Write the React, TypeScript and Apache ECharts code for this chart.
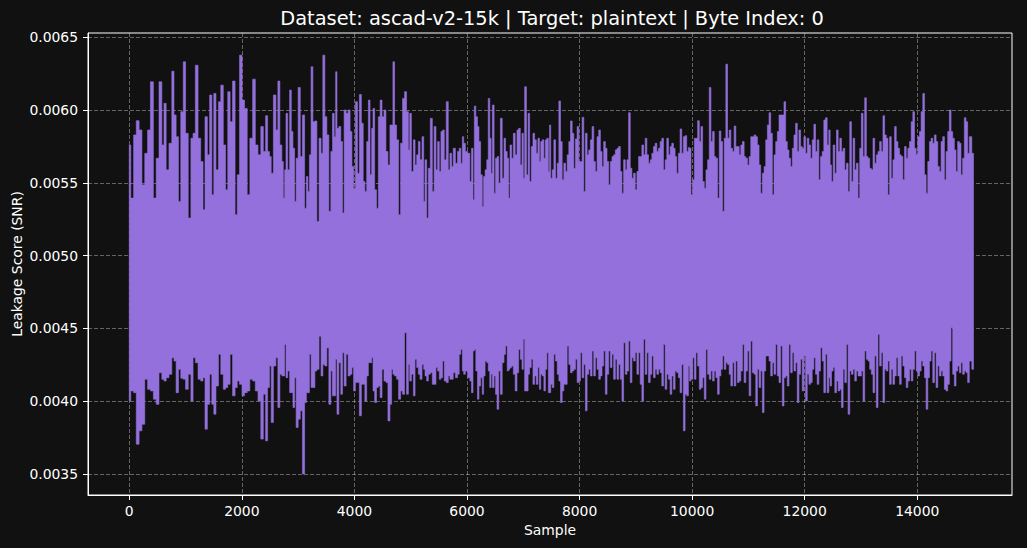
import React, { useEffect, useRef } from 'react';
import * as echarts from 'echarts';

const TITLE = 'Dataset: ascad-v2-15k | Target: plaintext | Byte Index: 0';
const X_LABEL = 'Sample';
const Y_LABEL = 'Leakage Score (SNR)';
const xTicks = [0, 2000, 4000, 6000, 8000, 10000, 12000, 14000];
const yTicks = [0.0035, 0.004, 0.0045, 0.005, 0.0055, 0.006, 0.0065];
const X_MIN = -733;
const X_MAX = 15683;
const Y_MIN = 0.003356;
const Y_MAX = 0.006529;

// sample position of each envelope reading
const sampleIndex = [
  0, 54, 101, 148, 201, 249, 302, 349, 402, 455, 502, 555, 603, 632, 679, 732, 780, 809, 856, 892,
  939, 980, 1021, 1075, 1116, 1151, 1198, 1246, 1293, 1328, 1364, 1411, 1446, 1488, 1517, 1564, 1606, 1647, 1694, 1729,
  1771, 1812, 1859, 1901, 1936, 1983, 2024, 2072, 2119, 2166, 2219, 2260, 2314, 2361, 2402, 2443, 2473,
  2508, 2537, 2584, 2626, 2655, 2696, 2726, 2749, 2773, 2797, 2832, 2867, 2891, 2926, 2950, 2980, 3021, 3056, 3098, 3133,
  3162, 3186, 3216, 3245, 3280, 3316, 3351, 3393, 3422, 3457, 3493, 3528, 3564, 3599, 3623, 3658, 3676, 3705, 3741, 3776,
  3800, 3835, 3870, 3906, 3941, 3971, 4000, 4036, 4071, 4106, 4142, 4171, 4201, 4236, 4260, 4295, 4319, 4342, 4378, 4407,
  4443, 4472, 4508, 4543, 4578, 4614, 4649, 4673, 4696, 4732, 4767, 4803, 4838, 4873, 4909, 4944, 4974,
  4992, 5033, 5063, 5092, 5122, 5151, 5181, 5222, 5240, 5269, 5299, 5328, 5369, 5399, 5434, 5464, 5493, 5523, 5552, 5582,
  5611, 5653, 5682, 5712, 5741, 5771, 5818, 5847, 5877, 5906, 5930, 5953, 5989, 6036, 6066, 6095, 6119, 6142, 6172, 6201,
  6225, 6260, 6284, 6307, 6337, 6366, 6390, 6420, 6437, 6467, 6496, 6520, 6549, 6579, 6608, 6644, 6673, 6697, 6732, 6750,
  6779, 6809, 6838, 6874, 6903, 6933, 6962, 6992, 7010, 7039, 7074, 7098, 7128, 7157, 7187, 7216, 7246, 7275, 7299, 7322,
  7352, 7381, 7405, 7434, 7458, 7476,
  7500, 7529, 7559, 7588, 7618, 7647, 7677, 7706, 7736, 7765, 7795, 7824, 7854, 7883, 7913, 7942, 7972, 8001, 8031, 8060,
  8090, 8119, 8149, 8178, 8208, 8237, 8267, 8296, 8326, 8355, 8385, 8414, 8444, 8473, 8503, 8532, 8562, 8591, 8621, 8650,
  8680, 8709, 8739, 8768, 8798, 8827, 8857, 8886, 8916, 8945, 8975, 9004, 9034, 9063, 9093, 9122, 9152, 9181, 9211, 9240,
  9270, 9299, 9329, 9358, 9388, 9417, 9447, 9476, 9506, 9535, 9565, 9594, 9624, 9653, 9683, 9712, 9742, 9771, 9801, 9830,
  9860, 9889, 9919, 9948,
  9965, 9995, 10024, 10054, 10083, 10113, 10142, 10172, 10201, 10231, 10260, 10290, 10319, 10349, 10378, 10408, 10437, 10467, 10496, 10526,
  10555, 10585, 10614, 10644, 10673, 10703, 10732, 10762, 10791, 10821, 10850, 10880, 10909, 10939, 10968, 10998, 11027, 11057, 11086, 11116,
  11145, 11175, 11204, 11234, 11263, 11293, 11322, 11352, 11381, 11411, 11440, 11470, 11499, 11529, 11558, 11588, 11617, 11647, 11676, 11706,
  11735, 11765, 11794, 11824, 11853, 11883, 11912, 11942, 11971, 12001, 12030, 12060, 12089, 12119, 12148, 12178, 12207, 12237, 12266, 12296,
  12325, 12355, 12384, 12414, 12443,
  12461, 12491, 12520, 12550, 12579, 12609, 12638, 12668, 12697, 12727, 12756, 12786, 12815, 12845, 12874, 12904, 12933, 12963, 12992, 13022,
  13051, 13081, 13110, 13140, 13169, 13199, 13228, 13258, 13287, 13317, 13346, 13376, 13405, 13435, 13464, 13494, 13523, 13553, 13582, 13612,
  13641, 13671, 13700, 13730, 13759, 13789, 13818, 13848, 13877, 13907, 13936, 13966, 13995, 14025, 14054, 14084, 14113, 14143, 14172, 14202,
  14231, 14261, 14290, 14320, 14349, 14379, 14408, 14438, 14467, 14497, 14526, 14556, 14585, 14615, 14644, 14674, 14703, 14733, 14762, 14792,
  14821, 14851, 14880, 14910, 14939, 14999,
];

// local maxima of the SNR trace (upper edge of the band)
const upperEnvelope = [
  57.60e-4, 53.95e-4, 58.29e-4, 59.27e-4, 58.63e-4, 54.86e-4, 57.03e-4, 58.63e-4, 61.94e-4, 53.95e-4, 56.69e-4, 61.94e-4, 57.60e-4, 60.46e-4, 55.89e-4, 57.72e-4, 62.67e-4, 59.66e-4, 58.17e-4, 53.72e-4,
  59.89e-4, 63.31e-4, 58.40e-4, 52.58e-4, 58.06e-4, 58.40e-4, 63.08e-4, 58.06e-4, 56.46e-4, 53.15e-4, 59.54e-4, 56.92e-4, 61.03e-4, 54.18e-4, 61.14e-4, 55.89e-4, 60.57e-4, 61.71e-4, 57.60e-4, 54.52e-4,
  61.26e-4, 59.20e-4, 61.99e-4, 52.81e-4, 55.55e-4, 63.77e-4, 60.68e-4, 60.11e-4, 54.18e-4, 58.06e-4, 62.12e-4, 57.60e-4, 56.92e-4, 58.86e-4, 57.15e-4, 59.61e-4, 57.15e-4,
  56.80e-4, 55.66e-4, 61.03e-4, 58.63e-4, 61.99e-4, 57.60e-4, 56.46e-4, 53.95e-4, 55.89e-4, 59.77e-4, 55.89e-4, 61.37e-4, 58.52e-4, 57.37e-4, 53.72e-4, 56.69e-4, 61.55e-4, 56.80e-4, 59.66e-4, 53.26e-4,
  55.43e-4, 54.41e-4, 56.92e-4, 62.97e-4, 59.20e-4, 59.25e-4, 52.35e-4, 58.06e-4, 57.03e-4, 63.77e-4, 59.54e-4, 58.29e-4, 53.04e-4, 57.15e-4, 59.77e-4, 58.17e-4, 62.63e-4, 58.74e-4, 58.86e-4, 57.83e-4,
  52.92e-4, 60.00e-4, 59.77e-4, 60.00e-4, 58.52e-4, 56.12e-4, 54.63e-4, 60.57e-4, 55.66e-4, 61.07e-4, 59.09e-4, 55.09e-4, 54.41e-4, 57.83e-4, 60.68e-4, 55.55e-4, 58.74e-4, 60.11e-4, 54.52e-4, 53.26e-4,
  59.54e-4, 60.68e-4, 59.54e-4, 60.00e-4, 57.15e-4, 56.23e-4, 58.97e-4, 58.97e-4, 63.31e-4, 58.97e-4, 57.95e-4, 52.81e-4, 57.72e-4, 60.80e-4, 61.26e-4, 59.89e-4, 57.26e-4,
  59.77e-4, 55.78e-4, 57.95e-4, 56.23e-4, 56.92e-4, 57.83e-4, 56.58e-4, 58.17e-4, 53.72e-4, 56.58e-4, 52.58e-4, 56.00e-4, 59.43e-4, 54.41e-4, 58.86e-4, 55.89e-4, 57.83e-4, 55.78e-4, 58.52e-4, 58.63e-4,
  56.58e-4, 60.57e-4, 55.89e-4, 57.03e-4, 56.12e-4, 57.37e-4, 56.35e-4, 57.15e-4, 57.37e-4, 56.35e-4, 58.17e-4, 57.72e-4, 57.15e-4, 57.03e-4, 55.09e-4, 57.37e-4, 53.84e-4, 60.27e-4, 59.54e-4, 58.86e-4,
  57.83e-4, 55.55e-4, 53.38e-4, 55.43e-4, 55.89e-4, 56.58e-4, 60.80e-4, 58.06e-4, 55.66e-4, 60.34e-4, 54.29e-4, 56.69e-4, 56.80e-4, 54.98e-4, 59.43e-4, 55.32e-4, 58.06e-4, 57.15e-4, 56.69e-4, 53.95e-4,
  57.60e-4, 56.69e-4, 58.40e-4, 56.92e-4, 58.63e-4, 58.74e-4, 56.23e-4, 58.40e-4, 55.32e-4, 61.60e-4, 55.55e-4, 59.77e-4, 55.09e-4, 57.49e-4, 58.40e-4, 57.95e-4, 57.03e-4, 58.06e-4, 56.46e-4, 57.83e-4,
  57.95e-4, 56.69e-4, 57.95e-4, 58.06e-4, 55.78e-4, 58.97e-4,
  55.32e-4, 55.89e-4, 57.95e-4, 55.32e-4, 56.35e-4, 60.62e-4, 57.83e-4, 55.21e-4, 56.35e-4, 55.78e-4, 56.92e-4, 57.83e-4, 59.25e-4, 58.40e-4, 56.00e-4, 58.01e-4, 58.86e-4, 56.46e-4, 56.46e-4, 59.50e-4,
  54.41e-4, 58.40e-4, 56.92e-4, 57.26e-4, 57.95e-4, 58.86e-4, 56.46e-4, 55.78e-4, 58.17e-4, 58.63e-4, 57.15e-4, 56.12e-4, 57.83e-4, 57.37e-4, 56.46e-4, 54.86e-4, 56.46e-4, 56.80e-4, 56.92e-4, 57.26e-4,
  57.37e-4, 57.49e-4, 55.78e-4, 54.29e-4, 56.58e-4, 55.89e-4, 56.58e-4, 59.82e-4, 56.00e-4, 55.32e-4, 55.66e-4, 54.52e-4, 55.78e-4, 56.80e-4, 56.80e-4, 57.60e-4, 56.92e-4, 58.06e-4, 56.92e-4, 56.35e-4,
  56.58e-4, 57.03e-4, 57.49e-4, 57.72e-4, 57.15e-4, 57.37e-4, 57.83e-4, 58.06e-4, 55.89e-4, 56.58e-4, 58.06e-4, 56.92e-4, 57.49e-4, 57.72e-4, 57.37e-4, 56.80e-4, 55.66e-4, 57.03e-4, 58.70e-4, 57.03e-4,
  58.17e-4, 58.24e-4, 57.15e-4, 57.42e-4,
  57.37e-4, 54.18e-4, 55.21e-4, 58.06e-4, 58.06e-4, 59.27e-4, 57.83e-4, 58.86e-4, 55.09e-4, 54.63e-4, 55.89e-4, 56.58e-4, 61.55e-4, 57.83e-4, 58.52e-4, 56.80e-4, 56.69e-4, 53.95e-4, 58.56e-4, 57.83e-4,
  53.04e-4, 58.06e-4, 63.15e-4, 58.06e-4, 58.63e-4, 57.37e-4, 57.15e-4, 58.90e-4, 57.49e-4, 57.49e-4, 56.92e-4, 57.60e-4, 57.83e-4, 56.80e-4, 56.69e-4, 56.23e-4, 56.80e-4, 58.17e-4, 58.17e-4, 58.29e-4,
  58.17e-4, 57.60e-4, 56.23e-4, 54.29e-4, 55.66e-4, 56.12e-4, 57.95e-4, 58.97e-4, 59.82e-4, 58.40e-4, 54.18e-4, 56.92e-4, 57.83e-4, 58.52e-4, 59.66e-4, 59.66e-4, 59.66e-4, 60.57e-4, 57.83e-4, 57.26e-4,
  56.69e-4, 56.12e-4, 57.37e-4, 58.29e-4, 59.09e-4, 57.15e-4, 58.63e-4, 57.49e-4, 57.37e-4, 58.17e-4, 57.03e-4, 58.06e-4, 57.60e-4, 56.69e-4, 57.95e-4, 59.02e-4, 57.15e-4, 57.95e-4, 55.21e-4, 56.80e-4,
  57.15e-4, 59.32e-4, 59.47e-4, 57.60e-4, 58.63e-4,
  56.23e-4, 55.09e-4, 57.60e-4, 55.66e-4, 58.63e-4, 57.15e-4, 58.06e-4, 57.15e-4, 57.37e-4, 55.89e-4, 56.35e-4, 54.41e-4, 59.20e-4, 55.09e-4, 58.06e-4, 55.89e-4, 56.35e-4, 53.95e-4, 57.37e-4, 59.77e-4,
  56.80e-4, 60.84e-4, 56.80e-4, 56.69e-4, 56.00e-4, 55.89e-4, 58.06e-4, 56.35e-4, 56.92e-4, 57.15e-4, 57.83e-4, 57.15e-4, 59.61e-4, 58.29e-4, 58.06e-4, 54.18e-4, 58.17e-4, 55.32e-4, 56.58e-4, 58.86e-4,
  57.83e-4, 57.37e-4, 56.92e-4, 56.80e-4, 55.21e-4, 57.49e-4, 56.69e-4, 57.37e-4, 57.83e-4, 59.20e-4, 59.89e-4, 57.37e-4, 56.92e-4, 58.17e-4, 58.52e-4, 59.89e-4, 61.14e-4, 55.55e-4, 54.29e-4, 56.46e-4,
  57.83e-4, 58.06e-4, 57.72e-4, 58.29e-4, 57.83e-4, 56.12e-4, 55.78e-4, 57.83e-4, 58.17e-4, 55.21e-4, 57.15e-4, 58.52e-4, 60.00e-4, 58.52e-4, 58.06e-4, 57.26e-4, 55.78e-4, 57.83e-4, 57.72e-4, 55.55e-4,
  56.69e-4, 59.47e-4, 59.20e-4, 57.03e-4, 58.17e-4, 57.03e-4,
];

// local minima of the SNR trace (lower edge of the band)
const lowerEnvelope = [
  40.02e-4, 40.71e-4, 40.59e-4, 37.05e-4, 37.97e-4, 38.42e-4, 41.51e-4, 40.82e-4, 40.71e-4, 40.14e-4, 39.79e-4, 41.96e-4, 41.51e-4, 41.39e-4, 41.62e-4, 41.85e-4, 42.99e-4, 42.76e-4, 40.59e-4, 42.19e-4,
  41.58e-4, 41.51e-4, 40.82e-4, 41.85e-4, 40.02e-4, 42.99e-4, 42.65e-4, 41.51e-4, 41.39e-4, 41.62e-4, 38.08e-4, 39.79e-4, 41.85e-4, 39.79e-4, 39.11e-4, 41.05e-4, 43.22e-4, 41.85e-4, 40.82e-4, 40.94e-4,
  41.16e-4, 43.22e-4, 40.37e-4, 40.94e-4, 41.39e-4, 41.16e-4, 40.37e-4, 40.59e-4, 40.71e-4, 41.51e-4, 41.39e-4, 40.71e-4, 40.02e-4, 37.40e-4, 40.48e-4, 37.28e-4, 40.94e-4,
  42.42e-4, 38.54e-4, 42.42e-4, 42.99e-4, 39.57e-4, 41.85e-4, 41.74e-4, 41.74e-4, 43.90e-4, 41.62e-4, 42.08e-4, 40.59e-4, 40.59e-4, 39.57e-4, 41.62e-4, 38.20e-4, 38.77e-4, 39.34e-4, 35.00e-4, 39.91e-4,
  40.59e-4, 40.59e-4, 43.22e-4, 40.94e-4, 40.94e-4, 42.08e-4, 42.19e-4, 44.47e-4, 41.74e-4, 42.53e-4, 42.42e-4, 43.68e-4, 39.79e-4, 42.08e-4, 40.37e-4, 40.37e-4, 42.88e-4, 39.11e-4, 42.65e-4, 40.48e-4,
  43.33e-4, 41.05e-4, 43.22e-4, 41.74e-4, 41.85e-4, 42.31e-4, 40.71e-4, 41.28e-4, 41.28e-4, 39.00e-4, 41.16e-4, 41.16e-4, 40.02e-4, 41.74e-4, 42.65e-4, 42.65e-4, 42.99e-4, 40.71e-4, 39.91e-4, 40.94e-4,
  41.05e-4, 40.25e-4, 42.19e-4, 41.39e-4, 41.28e-4, 38.65e-4, 39.79e-4, 42.19e-4, 41.85e-4, 41.74e-4, 41.51e-4, 40.14e-4, 40.71e-4, 40.48e-4, 44.70e-4, 40.48e-4, 42.53e-4,
  41.39e-4, 41.85e-4, 40.37e-4, 42.88e-4, 42.31e-4, 41.85e-4, 41.51e-4, 42.53e-4, 42.19e-4, 41.74e-4, 41.39e-4, 41.85e-4, 41.96e-4, 41.16e-4, 41.16e-4, 42.31e-4, 42.08e-4, 41.51e-4, 41.62e-4, 42.76e-4,
  41.39e-4, 41.28e-4, 41.74e-4, 41.51e-4, 41.51e-4, 41.96e-4, 41.62e-4, 41.85e-4, 43.22e-4, 43.56e-4, 42.08e-4, 41.85e-4, 42.08e-4, 41.62e-4, 41.39e-4, 40.59e-4, 43.45e-4, 43.56e-4, 42.08e-4, 40.14e-4,
  41.05e-4, 41.62e-4, 40.48e-4, 41.74e-4, 42.76e-4, 42.65e-4, 42.08e-4, 40.94e-4, 41.85e-4, 40.94e-4, 41.74e-4, 40.48e-4, 39.45e-4, 42.08e-4, 40.48e-4, 42.65e-4, 43.22e-4, 43.79e-4, 42.08e-4, 42.19e-4,
  42.31e-4, 42.42e-4, 41.85e-4, 40.71e-4, 41.96e-4, 43.56e-4, 42.88e-4, 42.19e-4, 44.25e-4, 40.71e-4, 40.71e-4, 41.85e-4, 42.31e-4, 42.88e-4, 41.16e-4, 41.74e-4, 41.16e-4, 42.31e-4, 40.82e-4, 41.85e-4,
  41.74e-4, 40.71e-4, 42.19e-4, 43.33e-4, 40.59e-4, 40.59e-4,
  41.16e-4, 40.94e-4, 43.22e-4, 42.76e-4, 41.85e-4, 41.39e-4, 39.91e-4, 40.71e-4, 41.16e-4, 41.16e-4, 43.79e-4, 42.53e-4, 41.96e-4, 42.08e-4, 42.19e-4, 42.88e-4, 41.28e-4, 41.39e-4, 43.33e-4, 41.62e-4,
  42.53e-4, 39.34e-4, 41.85e-4, 42.19e-4, 41.74e-4, 43.45e-4, 41.74e-4, 42.99e-4, 42.19e-4, 41.51e-4, 41.74e-4, 42.42e-4, 43.45e-4, 40.48e-4, 41.85e-4, 43.45e-4, 42.31e-4, 43.22e-4, 41.51e-4, 42.88e-4,
  41.51e-4, 42.53e-4, 41.51e-4, 40.02e-4, 44.02e-4, 41.85e-4, 42.08e-4, 44.13e-4, 41.28e-4, 42.99e-4, 42.76e-4, 43.33e-4, 41.85e-4, 43.33e-4, 41.16e-4, 40.02e-4, 44.25e-4, 41.85e-4, 43.33e-4, 41.28e-4,
  41.85e-4, 43.11e-4, 41.62e-4, 42.19e-4, 41.85e-4, 42.19e-4, 41.96e-4, 41.05e-4, 43.90e-4, 40.82e-4, 41.85e-4, 41.51e-4, 40.48e-4, 41.74e-4, 40.82e-4, 42.08e-4, 41.96e-4, 41.62e-4, 40.59e-4, 42.53e-4,
  37.97e-4, 40.48e-4, 40.37e-4, 42.42e-4,
  41.39e-4, 41.51e-4, 42.99e-4, 41.51e-4, 43.33e-4, 42.42e-4, 40.82e-4, 40.94e-4, 41.62e-4, 40.14e-4, 43.56e-4, 41.85e-4, 41.51e-4, 42.08e-4, 41.39e-4, 42.08e-4, 41.62e-4, 40.48e-4, 41.74e-4, 42.19e-4,
  43.11e-4, 42.19e-4, 42.65e-4, 42.53e-4, 41.85e-4, 41.05e-4, 42.65e-4, 41.05e-4, 42.76e-4, 41.28e-4, 41.39e-4, 42.08e-4, 43.90e-4, 41.28e-4, 42.08e-4, 43.45e-4, 40.37e-4, 44.13e-4, 41.96e-4, 41.85e-4,
  39.68e-4, 42.19e-4, 40.94e-4, 42.08e-4, 39.22e-4, 42.08e-4, 43.11e-4, 43.11e-4, 42.76e-4, 41.74e-4, 42.65e-4, 41.85e-4, 43.90e-4, 41.74e-4, 41.28e-4, 43.79e-4, 39.68e-4, 41.62e-4, 41.74e-4, 41.05e-4,
  43.90e-4, 41.96e-4, 43.33e-4, 42.08e-4, 42.65e-4, 39.91e-4, 41.85e-4, 42.88e-4, 40.71e-4, 43.11e-4, 40.02e-4, 41.85e-4, 41.16e-4, 41.28e-4, 42.19e-4, 42.99e-4, 41.85e-4, 41.16e-4, 42.08e-4, 43.68e-4,
  42.76e-4, 40.59e-4, 43.22e-4, 40.59e-4, 41.62e-4,
  41.05e-4, 42.08e-4, 42.31e-4, 40.59e-4, 41.39e-4, 40.71e-4, 40.82e-4, 39.57e-4, 42.19e-4, 41.28e-4, 43.90e-4, 39.11e-4, 42.08e-4, 41.85e-4, 42.19e-4, 41.39e-4, 42.08e-4, 41.74e-4, 41.74e-4, 42.08e-4,
  40.02e-4, 43.45e-4, 42.88e-4, 42.76e-4, 42.19e-4, 41.85e-4, 40.59e-4, 43.11e-4, 39.57e-4, 44.59e-4, 42.42e-4, 43.33e-4, 39.91e-4, 42.19e-4, 42.08e-4, 42.76e-4, 41.16e-4, 42.19e-4, 41.16e-4, 41.74e-4,
  42.99e-4, 41.74e-4, 41.16e-4, 43.11e-4, 42.42e-4, 41.62e-4, 40.94e-4, 41.39e-4, 42.19e-4, 41.39e-4, 42.19e-4, 43.45e-4, 42.08e-4, 41.74e-4, 42.08e-4, 42.76e-4, 42.42e-4, 41.62e-4, 39.45e-4, 41.62e-4,
  42.76e-4, 43.45e-4, 41.28e-4, 43.33e-4, 40.94e-4, 42.42e-4, 41.74e-4, 42.08e-4, 41.74e-4, 40.82e-4, 40.71e-4, 41.16e-4, 42.76e-4, 45.05e-4, 41.85e-4, 41.05e-4, 42.08e-4, 42.42e-4, 41.96e-4, 42.65e-4,
  41.85e-4, 42.08e-4, 41.96e-4, 41.28e-4, 42.76e-4, 42.19e-4,
];

const BG = '#111111';
const LINE_COLOR = '#9370DB';
const FONT = '"DejaVu Sans", "Liberation Sans", sans-serif';

const isTick = (list: number[], v: number) => list.some((t) => Math.abs(t - v) < 1e-9 * Math.max(1, Math.abs(t)));

export default function App() {
  const ref = useRef<HTMLDivElement>(null);

  useEffect(() => {
    if (!ref.current) return;
    const chart = echarts.init(ref.current, undefined, { renderer: 'svg' });
    const n = sampleIndex.length;
    const edge = (i: number) =>
      i <= 0 ? sampleIndex[0] : i >= n ? sampleIndex[n - 1] : (sampleIndex[i - 1] + sampleIndex[i]) / 2;

    const gridLine = { show: true, lineStyle: { color: 'rgba(255,255,255,0.35)', width: 1, type: [4, 2] as any } };

    chart.setOption({
      animation: false,
      backgroundColor: BG,
      textStyle: { fontFamily: FONT },
      grid: {
        left: 88,
        right: 15,
        top: 33,
        bottom: 53,
        show: true,
        borderColor: '#ffffff',
        borderWidth: 1,
        backgroundColor: 'transparent',
        containLabel: false,
        outerBoundsMode: 'none',
      },
      graphic: [
        {
          type: 'text',
          x: 552,
          y: 18,
          silent: true,
          style: {
            text: TITLE,
            fill: '#ffffff',
            fontSize: 19.4,
            fontFamily: FONT,
            align: 'center',
            verticalAlign: 'middle',
          },
        },
      ],
      xAxis: {
        type: 'value',
        min: X_MIN,
        max: X_MAX,
        name: X_LABEL,
        nameLocation: 'middle',
        nameGap: 28,
        nameMoveOverlap: false,
        nameTextStyle: { color: '#ffffff', fontSize: 13.9, fontFamily: FONT },
        axisLine: { show: true, onZero: false, lineStyle: { color: '#ffffff', width: 1 } },
        axisTick: { show: true, length: 5, inside: false, customValues: xTicks, lineStyle: { color: '#ffffff', width: 1 } },
        axisLabel: {
          color: '#ffffff',
          fontSize: 13.9,
          fontFamily: FONT,
          margin: 9,
          customValues: xTicks,
          formatter: (v: number) => (isTick(xTicks, v) ? String(Math.round(v)) : ''),
        },
        splitLine: gridLine,
      },
      yAxis: {
        type: 'value',
        min: Y_MIN,
        max: Y_MAX,
        name: Y_LABEL,
        nameLocation: 'middle',
        nameGap: 64,
        nameMoveOverlap: false,
        nameRotate: 90,
        nameTextStyle: { color: '#ffffff', fontSize: 13.9, fontFamily: FONT },
        axisLine: { show: true, onZero: false, lineStyle: { color: '#ffffff', width: 1 } },
        axisTick: { show: true, length: 5, inside: false, customValues: yTicks, lineStyle: { color: '#ffffff', width: 1 } },
        axisLabel: {
          color: '#ffffff',
          fontSize: 13.9,
          fontFamily: FONT,
          margin: 10,
          customValues: yTicks,
          formatter: (v: number) => (isTick(yTicks, v) ? v.toFixed(4) : ''),
        },
        splitLine: gridLine,
      },
      series: [
        {
          type: 'custom',
          coordinateSystem: 'cartesian2d',
          silent: true,
          clip: true,
          encode: { x: 0, y: [1, 2] },
          data: sampleIndex.map((x, i) => [x, upperEnvelope[i], lowerEnvelope[i]]),
          renderItem: (params: any, api: any) => {
            if (params.dataIndex !== 0) return null;
            const pts: number[][] = [];
            for (let i = 0; i < n; i++) {
              pts.push(api.coord([edge(i), upperEnvelope[i]]));
              pts.push(api.coord([edge(i + 1), upperEnvelope[i]]));
            }
            for (let i = n - 1; i >= 0; i--) {
              pts.push(api.coord([edge(i + 1), lowerEnvelope[i]]));
              pts.push(api.coord([edge(i), lowerEnvelope[i]]));
            }
            return {
              type: 'polygon',
              shape: { points: pts },
              style: { fill: LINE_COLOR, stroke: LINE_COLOR, lineWidth: 0.6 },
            };
          },
        },
      ],
    });

    return () => {
      chart.dispose();
    };
  }, []);

  return (
    <div
      ref={ref}
      style={{ position: 'fixed', left: 0, top: 0, width: 1027, height: 548, background: BG }}
    />
  );
}
